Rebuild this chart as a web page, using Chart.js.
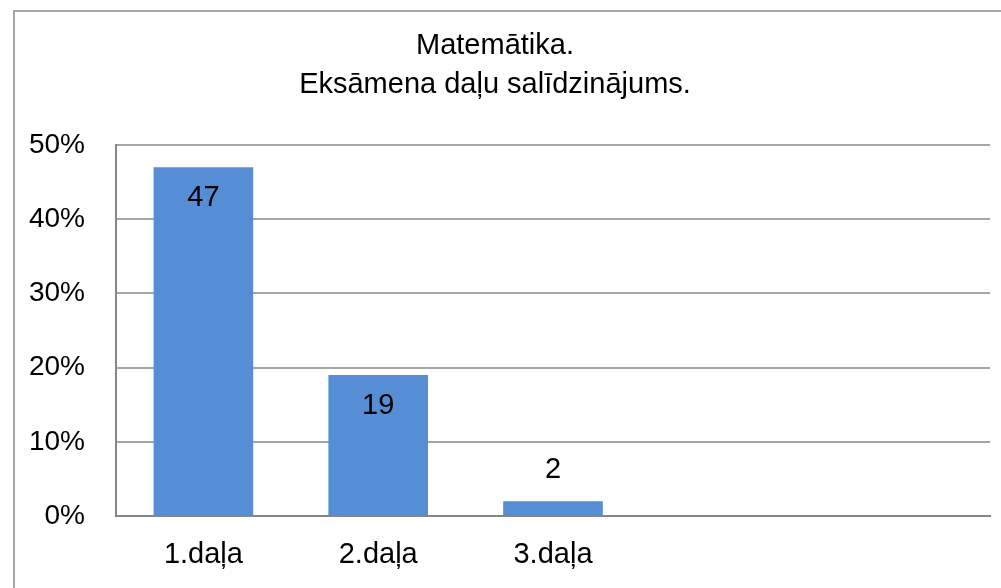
<!DOCTYPE html>
<html>
<head>
<meta charset="utf-8">
<script src="https://cdn.jsdelivr.net/npm/chart.js@4"></script>
<style>
    body { margin: 0; background: #fff; }
    #wrap { position: relative; width: 1001px; height: 588px; overflow: hidden; }
    #frame { position: absolute; left: 13px; top: 10px; width: 1100px; height: 700px; border: 2px solid #a6a6a6; box-sizing: border-box; }
    canvas { position: absolute; left: 0; top: 0; }
</style>
</head>
<body>
<div id="wrap">
    <div id="frame"></div>
    <canvas id="chart" width="1001" height="588"></canvas>
</div>
<script>
const titleLines = ['Matemātika.', 'Eksāmena daļu salīdzinājums.'];
const categories = ['1.daļa', '2.daļa', '3.daļa', '', ''];
const percents = [47, 19, 2, null, null];
const yTicks = [0, 10, 20, 30, 40, 50];

const fontFamily = '"Liberation Sans", Arial, sans-serif';

// simple value labels, inside the top of the bar if it fits, above otherwise
const barLabels = {
    id: 'barLabels',
    afterDatasetsDraw(chart) {
        let ctx = chart.ctx;
        let meta = chart.getDatasetMeta(0);
        ctx.save();
        ctx.font = '29px ' + fontFamily;
        ctx.fillStyle = '#000';
        ctx.textAlign = 'center';
        ctx.textBaseline = 'middle';
        meta.data.forEach((bar, i) => {
            let v = percents[i];
            if (v === null) return;
            let h = bar.base - bar.y;
            let y = h > 60 ? bar.y + 31 : bar.y - 31;
            ctx.fillText(String(v), bar.x, y);
        });
        ctx.restore();
    }
};

new Chart(document.getElementById('chart'), {
    type: 'bar',
    data: {
        labels: categories,
        datasets: [{
            data: percents,
            backgroundColor: '#558ED5',
            categoryPercentage: 1,
            barPercentage: 0.57
        }]
    },
    options: {
        responsive: false,
        animation: false,
        layout: { padding: { left: 0, right: 11, top: 26, bottom: 0 } },
        plugins: {
            legend: { display: false },
            tooltip: { enabled: false },
            title: {
                display: true,
                text: titleLines,
                color: '#000',
                font: { family: fontFamily, size: 29, weight: 'normal', lineHeight: 1.345 },
                padding: { top: 0, bottom: 41 }
            }
        },
        scales: {
            x: {
                grid: { display: false, drawTicks: false },
                border: { display: true, color: '#868686', width: 2 },
                ticks: { color: '#000', font: { family: fontFamily, size: 29 }, padding: 22 },
                afterFit(scale) { scale.height = 72; }
            },
            y: {
                min: 0,
                max: 50,
                afterBuildTicks(scale) { scale.ticks = yTicks.map(v => ({ value: v })); },
                grid: { color: '#a6a6a6', lineWidth: 2, drawTicks: false },
                border: { display: true, color: '#868686', width: 2 },
                ticks: {
                    color: '#000',
                    font: { family: fontFamily, size: 28 },
                    padding: 31,
                    callback: v => v + '%'
                },
                afterFit(scale) { scale.width = 116; }
            }
        }
    },
    plugins: [barLabels]
});
</script>
</body>
</html>
